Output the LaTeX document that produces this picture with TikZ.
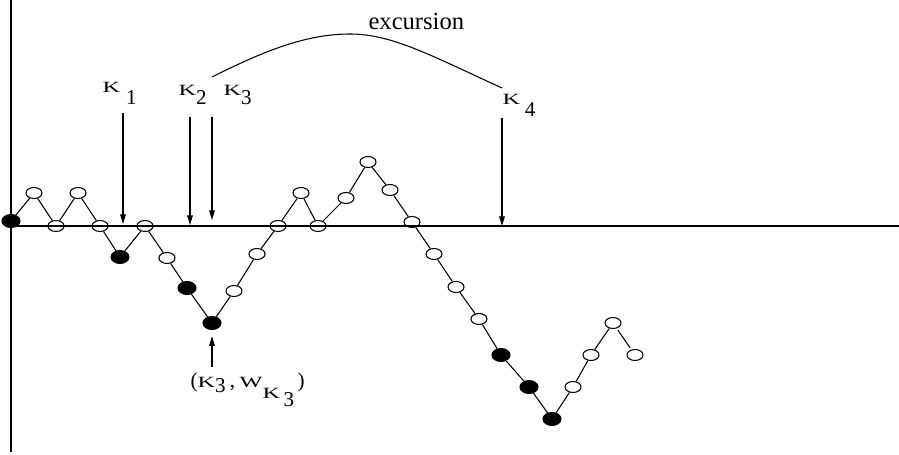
\documentclass[tikz,border=0pt]{standalone}
\usepackage{fontspec}
\setmainfont{Liberation Serif}
\usepackage{graphicx}
\usetikzlibrary{shapes.geometric,arrows.meta}

\newcommand{\sm}[1]{\scalebox{1.15}[0.74]{#1}}

\tikzset{
  wt/.style={draw,shape=ellipse,minimum width=0.32cm,minimum height=0.22cm,inner sep=0pt},
  bk/.style={draw,fill=black,shape=ellipse,minimum width=0.36cm,minimum height=0.26cm,inner sep=0pt},
  lbl/.style={inner sep=0pt,anchor=base west,font=\fontsize{12}{14}\selectfont},
  pt/.style={-{Triangle[length=5.5pt,width=3.2pt]}},
  seg/.style={shorten <=1.2pt,shorten >=1.2pt}
}

\begin{document}
\begin{tikzpicture}[x=0.02cm,y=-0.02cm,line width=0.6pt]
\useasboundingbox (0,0) rectangle (899,455);
      %\draw (0,0) rectangle (899,455);

\draw (11,0) -- (11,452);
\draw (11,226) -- (899,226);

\draw node (p0) at (11,221) [bk]{};
\draw node (p1) at (34,193) [wt]{};
\draw node (p2) at (56,226) [wt]{};
\draw node (p3) at (78,193) [wt]{};
\draw node (p4) at (100,226) [wt]{};
\draw node (p5) at (120,257) [bk]{};
\draw node (p6) at (145,226) [wt]{};
\draw node (p7) at (167,258) [wt]{};
\draw node (p8) at (187,288) [bk]{};
\draw node (p9) at (212,323) [bk]{};
\draw node (p10) at (234,291) [wt]{};
\draw node (p11) at (257,254) [wt]{};
\draw node (p12) at (278,226) [wt]{};
\draw node (p13) at (301,193) [wt]{};
\draw node (p14) at (318,226) [wt]{};
\draw node (p15) at (346,198) [wt]{};
\draw node (p16) at (368,162) [wt]{};
\draw node (p17) at (390,190) [wt]{};
\draw node (p18) at (412,222) [wt]{};
\draw node (p19) at (434,254) [wt]{};
\draw node (p20) at (456,287) [wt]{};
\draw node (p21) at (479,319) [wt]{};
\draw node (p22) at (501,355) [bk]{};
\draw node (p23) at (529,387) [bk]{};
\draw node (p24) at (552,419) [bk]{};
\draw node (p25) at (573,387) [wt]{};
\draw node (p26) at (591,355) [wt]{};
\draw node (p27) at (613,323) [wt]{};
\draw node (p28) at (635,355) [wt]{};

\draw[seg] (p0) -- (p1) (p1) -- (p2) (p2) -- (p3) (p3) -- (p4)
  (p4) -- (p5) (p5) -- (p6) (p6) -- (p7) (p7) -- (p8)
  (p8) -- (p9) (p9) -- (p10) (p10) -- (p11) (p11) -- (p12)
  (p12) -- (p13) (p13) -- (p14) (p14) -- (p15) (p15) -- (p16)
  (p16) -- (p17) (p17) -- (p18) (p18) -- (p19) (p19) -- (p20)
  (p20) -- (p21) (p21) -- (p22) (p22) -- (p23) (p23) -- (p24)
  (p24) -- (p25) (p25) -- (p26) (p26) -- (p27) (p27) -- (p28);

\node[lbl] (k1) at (102,93) {\sm{K}\hspace{3.4pt}\raisebox{-6.8pt}{1}};
\node[lbl] (k2) at (178,96) {\sm{K}\raisebox{-5.1pt}{2}};
\node[lbl] (k3) at (223,96) {\sm{K}\raisebox{-5.1pt}{3}};
\node[lbl] (k4) at (502,105) {\sm{K}\hspace{2.8pt}\raisebox{-6.8pt}{4}};
\node[lbl,font=\fontsize{14}{16}\selectfont] (exc) at (368,30) {excursion};
\node[lbl] (pos) at (190,388)
  {(\sm{K}\raisebox{-2.8pt}{3}\hspace{2.5pt},\hspace{2.5pt}\sm{W}\raisebox{-5.7pt}{\sm{K}\hspace{2pt}\raisebox{-5pt}{3}}\hspace{2pt})};

\coordinate (a1) at (123,113); \coordinate (b1) at (123,224);
\coordinate (a2) at (190,117); \coordinate (b2) at (190,225);
\coordinate (a3) at (212,117); \coordinate (b3) at (212,220);
\coordinate (a4) at (502,118); \coordinate (b4) at (502,226);
\coordinate (a5) at (212,367);
\draw[pt] (a1) -- (b1);
\draw[pt] (a2) -- (b2);
\draw[pt] (a3) -- (b3);
\draw[pt] (a4) -- (b4);
\draw[pt,shorten >=3.5pt] (a5) -- (p9);

% excursion bracket
\coordinate (c0) at (212,77);
\coordinate (c1) at (502,88);
\draw (c0) .. controls (262,52) and (305,34) .. (350,34)
  .. controls (392,34) and (432,56) .. (c1);
\end{tikzpicture}
\end{document}
